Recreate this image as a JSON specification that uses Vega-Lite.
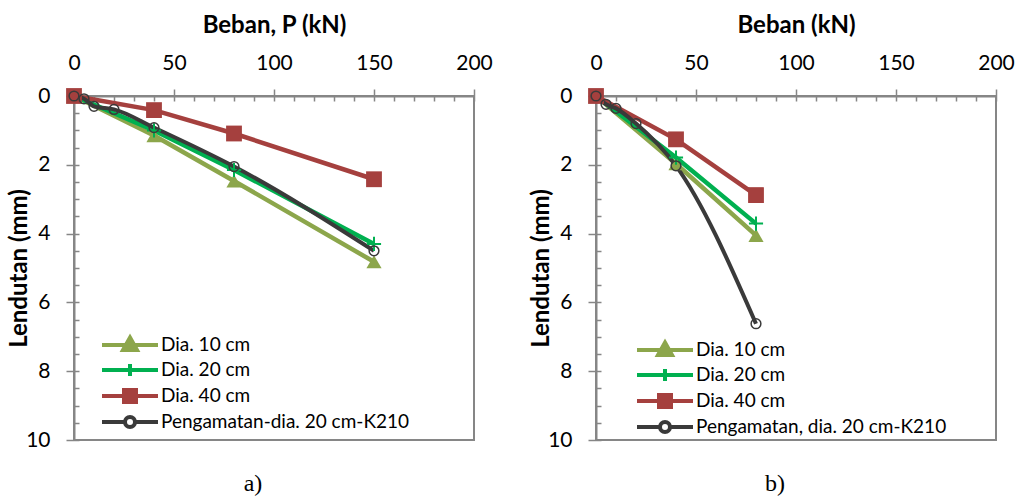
{
  "$schema": "https://vega.github.io/schema/vega-lite/v6.json",
  "autosize": {"type": "pad"},
  "padding": {"left": 6, "top": 12, "right": 5, "bottom": 0},
  "background": "white",
  "config": {"view": {"stroke": "#868686", "strokeWidth": 2}},
  "spacing": 122,
  "bounds": "flush",
  "datasets": {
    "a": [
      {"P": 0, "d": 0, "s": "Dia. 10 cm"}, {"P": 40, "d": 1.15, "s": "Dia. 10 cm"}, {"P": 80, "d": 2.47, "s": "Dia. 10 cm"}, {"P": 150, "d": 4.82, "s": "Dia. 10 cm"},
      {"P": 0, "d": 0, "s": "Dia. 20 cm"}, {"P": 40, "d": 1.0, "s": "Dia. 20 cm"}, {"P": 80, "d": 2.15, "s": "Dia. 20 cm"}, {"P": 150, "d": 4.3, "s": "Dia. 20 cm"},
      {"P": 0, "d": 0, "s": "Dia. 40 cm"}, {"P": 40, "d": 0.41, "s": "Dia. 40 cm"}, {"P": 80, "d": 1.09, "s": "Dia. 40 cm"}, {"P": 150, "d": 2.42, "s": "Dia. 40 cm"},
      {"P": 0, "d": 0, "s": "Pengamatan-dia. 20 cm-K210"}, {"P": 5, "d": 0.08, "s": "Pengamatan-dia. 20 cm-K210"}, {"P": 10, "d": 0.3, "s": "Pengamatan-dia. 20 cm-K210"}, {"P": 20, "d": 0.39, "s": "Pengamatan-dia. 20 cm-K210"}, {"P": 40, "d": 0.92, "s": "Pengamatan-dia. 20 cm-K210"}, {"P": 80, "d": 2.05, "s": "Pengamatan-dia. 20 cm-K210"}, {"P": 150, "d": 4.5, "s": "Pengamatan-dia. 20 cm-K210"}
    ],
    "b": [
      {"P": 0, "d": 0, "s": "Dia. 10 cm"}, {"P": 40, "d": 1.97, "s": "Dia. 10 cm"}, {"P": 80, "d": 4.05, "s": "Dia. 10 cm"},
      {"P": 0, "d": 0, "s": "Dia. 20 cm"}, {"P": 40, "d": 1.79, "s": "Dia. 20 cm"}, {"P": 80, "d": 3.71, "s": "Dia. 20 cm"},
      {"P": 0, "d": 0, "s": "Dia. 40 cm"}, {"P": 40, "d": 1.26, "s": "Dia. 40 cm"}, {"P": 80, "d": 2.88, "s": "Dia. 40 cm"},
      {"P": 0, "d": 0, "s": "Pengamatan, dia. 20 cm-K210"}, {"P": 5, "d": 0.24, "s": "Pengamatan, dia. 20 cm-K210"}, {"P": 10, "d": 0.36, "s": "Pengamatan, dia. 20 cm-K210"}, {"P": 20, "d": 0.8, "s": "Pengamatan, dia. 20 cm-K210"}, {"P": 40, "d": 2.03, "s": "Pengamatan, dia. 20 cm-K210"}, {"P": 80, "d": 6.62, "s": "Pengamatan, dia. 20 cm-K210"}
    ]
  },
  "hconcat": [
    {
      "width": 400, "height": 344,
      "title": {"text": "a)", "orient": "bottom", "font": "Liberation Serif", "fontSize": 24, "fontWeight": "normal", "color": "black", "offset": 22, "dx": -21},
      "data": {"name": "a"},
      "resolve": {"axis": {"x": "independent", "y": "independent"}},
      "layer": [
        {
          "transform": [{"filter": {"field": "s", "oneOf": ["Dia. 10 cm", "Dia. 20 cm", "Dia. 40 cm"]}}],
          "mark": {"type": "line", "strokeWidth": 4.5},
          "encoding": {
            "x": {"field": "P", "type": "quantitative", "scale": {"domain": [0, 200], "nice": false},
              "axis": {"orient": "top", "values": [0, 50, 100, 150, 200], "title": "Beban, P (kN)", "titleFont": "Lato", "titleFontSize": 24, "titleFontWeight": "bold", "titleColor": "black", "titlePadding": 15, "labelFont": "Lato", "labelFontSize": 21, "labelColor": "black", "labelPadding": 16, "tickSize": 7, "tickColor": "#868686", "tickWidth": 1.5, "domainColor": "#868686", "domainWidth": 2, "grid": false, "labelFlush": false}},
            "y": {"field": "d", "type": "quantitative", "scale": {"domain": [0, 10], "reverse": true, "nice": false},
              "axis": {"orient": "left", "values": [0, 2, 4, 6, 8, 10], "title": "Lendutan (mm)", "titleFont": "Lato", "titleFontSize": 24, "titleFontWeight": "bold", "titleColor": "black", "titlePadding": -6, "labelFont": "Lato", "labelFontSize": 21, "labelColor": "black", "labelPadding": 16, "tickSize": 8, "tickColor": "#868686", "tickWidth": 1.5, "domainColor": "#868686", "domainWidth": 2, "grid": false, "labelFlush": false}},
            "color": {"field": "s", "type": "nominal",
              "scale": {"domain": ["Dia. 10 cm", "Dia. 20 cm", "Dia. 40 cm", "Pengamatan-dia. 20 cm-K210"], "range": ["#8CA64B", "#00B050", "#A5403E", "#3A3A3A"]},
              "legend": {"orient": "none", "legendX": 44, "legendY": 237, "title": null, "labelFont": "Lato", "labelFontSize": 19, "labelColor": "black", "labelLimit": 500, "symbolSize": 400, "rowPadding": -2, "labelOffset": 19, "symbolOpacity": 1, "symbolStrokeWidth": 4,
                "encode": {"symbols": {"update": {
                  "shape": {"signal": "datum.value == 'Dia. 10 cm' ? 'M-2.8,0H2.8M0,-0.75L0.7,0.5H-0.7Z' : datum.value == 'Dia. 20 cm' ? 'M-2.8,0H2.8M0,-0.6V0.6' : datum.value == 'Dia. 40 cm' ? 'M-2.8,0H2.8M-0.6,-0.6H0.6V0.6H-0.6Z' : 'M-2.8,0H-0.5M0.5,0H2.8M0.5,0A0.5,0.5,0,1,1,-0.5,0A0.5,0.5,0,1,1,0.5,0Z'"},
                  "fill": {"signal": "datum.value == 'Dia. 10 cm' ? '#8CA64B' : datum.value == 'Dia. 20 cm' ? '#00B050' : datum.value == 'Dia. 40 cm' ? '#A5403E' : 'white'"},
                  "strokeWidth": {"value": 4}
                }}}}}
          }
        },
        {
          "transform": [{"filter": {"not": {"field": "s", "oneOf": ["Dia. 10 cm", "Dia. 20 cm", "Dia. 40 cm"]}}}],
          "mark": {"type": "line", "strokeWidth": 4, "interpolate": "monotone"},
          "encoding": {
            "x": {"field": "P", "type": "quantitative", "axis": {"orient": "top", "values": [0, 10, 20, 30, 40, 50, 60, 70, 80, 90, 100, 110, 120, 130, 140, 150, 160, 170, 180, 190, 200], "labels": false, "domain": false, "title": null, "grid": false, "tickSize": -5, "tickColor": "#868686", "tickWidth": 1.5}},
            "y": {"field": "d", "type": "quantitative", "axis": {"orient": "left", "values": [0, 0.5, 1, 1.5, 2, 2.5, 3, 3.5, 4, 4.5, 5, 5.5, 6, 6.5, 7, 7.5, 8, 8.5, 9, 9.5, 10], "labels": false, "domain": false, "title": null, "grid": false, "tickSize": -5, "tickColor": "#868686", "tickWidth": 1.5}},
            "color": {"field": "s", "type": "nominal"}
          }
        },
        {
          "transform": [{"filter": {"field": "s", "equal": "Dia. 10 cm"}}],
          "mark": {"type": "point", "shape": "triangle-up", "filled": true, "size": 230, "color": "#8CA64B", "opacity": 1},
          "encoding": {"x": {"field": "P", "type": "quantitative", "axis": null}, "y": {"field": "d", "type": "quantitative", "axis": null}}
        },
        {
          "transform": [{"filter": {"field": "s", "equal": "Dia. 20 cm"}}],
          "mark": {"type": "point", "shape": "M-1,0H1M0,-1V1", "filled": false, "size": 200, "stroke": "#00B050", "strokeWidth": 2, "opacity": 1},
          "encoding": {"x": {"field": "P", "type": "quantitative", "axis": null}, "y": {"field": "d", "type": "quantitative", "axis": null}}
        },
        {
          "transform": [{"filter": {"field": "s", "equal": "Dia. 40 cm"}}],
          "mark": {"type": "point", "shape": "square", "filled": true, "size": 250, "color": "#A5403E", "opacity": 1},
          "encoding": {"x": {"field": "P", "type": "quantitative", "axis": null}, "y": {"field": "d", "type": "quantitative", "axis": null}}
        },
        {
          "transform": [{"filter": {"not": {"field": "s", "oneOf": ["Dia. 10 cm", "Dia. 20 cm", "Dia. 40 cm"]}}}],
          "mark": {"type": "point", "shape": "circle", "filled": false, "size": 95, "stroke": "#3A3A3A", "strokeWidth": 1.5, "opacity": 1},
          "encoding": {"x": {"field": "P", "type": "quantitative", "axis": null}, "y": {"field": "d", "type": "quantitative", "axis": null}}
        }
      ]
    },
    {
      "width": 400, "height": 344,
      "title": {"text": "b)", "orient": "bottom", "font": "Liberation Serif", "fontSize": 24, "fontWeight": "normal", "color": "black", "offset": 22, "dx": -21},
      "data": {"name": "b"},
      "resolve": {"axis": {"x": "independent", "y": "independent"}},
      "layer": [
        {
          "transform": [{"filter": {"field": "s", "oneOf": ["Dia. 10 cm", "Dia. 20 cm", "Dia. 40 cm"]}}],
          "mark": {"type": "line", "strokeWidth": 4.5},
          "encoding": {
            "x": {"field": "P", "type": "quantitative", "scale": {"domain": [0, 200], "nice": false},
              "axis": {"orient": "top", "values": [0, 50, 100, 150, 200], "title": "Beban (kN)", "titleFont": "Lato", "titleFontSize": 24, "titleFontWeight": "bold", "titleColor": "black", "titlePadding": 15, "labelFont": "Lato", "labelFontSize": 21, "labelColor": "black", "labelPadding": 16, "tickSize": 7, "tickColor": "#868686", "tickWidth": 1.5, "domainColor": "#868686", "domainWidth": 2, "grid": false, "labelFlush": false}},
            "y": {"field": "d", "type": "quantitative", "scale": {"domain": [0, 10], "reverse": true, "nice": false},
              "axis": {"orient": "left", "values": [0, 2, 4, 6, 8, 10], "title": "Lendutan (mm)", "titleFont": "Lato", "titleFontSize": 24, "titleFontWeight": "bold", "titleColor": "black", "titlePadding": -6, "labelFont": "Lato", "labelFontSize": 21, "labelColor": "black", "labelPadding": 16, "tickSize": 8, "tickColor": "#868686", "tickWidth": 1.5, "domainColor": "#868686", "domainWidth": 2, "grid": false, "labelFlush": false}},
            "color": {"field": "s", "type": "nominal",
              "scale": {"domain": ["Dia. 10 cm", "Dia. 20 cm", "Dia. 40 cm", "Pengamatan, dia. 20 cm-K210"], "range": ["#8CA64B", "#00B050", "#A5403E", "#3A3A3A"]},
              "legend": {"orient": "none", "legendX": 57, "legendY": 242, "title": null, "labelFont": "Lato", "labelFontSize": 19, "labelColor": "black", "labelLimit": 500, "symbolSize": 400, "rowPadding": -4, "labelOffset": 19, "symbolOpacity": 1, "symbolStrokeWidth": 4,
                "encode": {"symbols": {"update": {
                  "shape": {"signal": "datum.value == 'Dia. 10 cm' ? 'M-2.8,0H2.8M0,-0.75L0.7,0.5H-0.7Z' : datum.value == 'Dia. 20 cm' ? 'M-2.8,0H2.8M0,-0.6V0.6' : datum.value == 'Dia. 40 cm' ? 'M-2.8,0H2.8M-0.6,-0.6H0.6V0.6H-0.6Z' : 'M-2.8,0H-0.5M0.5,0H2.8M0.5,0A0.5,0.5,0,1,1,-0.5,0A0.5,0.5,0,1,1,0.5,0Z'"},
                  "fill": {"signal": "datum.value == 'Dia. 10 cm' ? '#8CA64B' : datum.value == 'Dia. 20 cm' ? '#00B050' : datum.value == 'Dia. 40 cm' ? '#A5403E' : 'white'"},
                  "strokeWidth": {"value": 4}
                }}}}}
          }
        },
        {
          "transform": [{"filter": {"not": {"field": "s", "oneOf": ["Dia. 10 cm", "Dia. 20 cm", "Dia. 40 cm"]}}}],
          "mark": {"type": "line", "strokeWidth": 4, "interpolate": "monotone"},
          "encoding": {
            "x": {"field": "P", "type": "quantitative", "axis": {"orient": "top", "values": [0, 10, 20, 30, 40, 50, 60, 70, 80, 90, 100, 110, 120, 130, 140, 150, 160, 170, 180, 190, 200], "labels": false, "domain": false, "title": null, "grid": false, "tickSize": -5, "tickColor": "#868686", "tickWidth": 1.5}},
            "y": {"field": "d", "type": "quantitative", "axis": {"orient": "left", "values": [0, 0.5, 1, 1.5, 2, 2.5, 3, 3.5, 4, 4.5, 5, 5.5, 6, 6.5, 7, 7.5, 8, 8.5, 9, 9.5, 10], "labels": false, "domain": false, "title": null, "grid": false, "tickSize": -5, "tickColor": "#868686", "tickWidth": 1.5}},
            "color": {"field": "s", "type": "nominal"}
          }
        },
        {
          "transform": [{"filter": {"field": "s", "equal": "Dia. 10 cm"}}],
          "mark": {"type": "point", "shape": "triangle-up", "filled": true, "size": 230, "color": "#8CA64B", "opacity": 1},
          "encoding": {"x": {"field": "P", "type": "quantitative", "axis": null}, "y": {"field": "d", "type": "quantitative", "axis": null}}
        },
        {
          "transform": [{"filter": {"field": "s", "equal": "Dia. 20 cm"}}],
          "mark": {"type": "point", "shape": "M-1,0H1M0,-1V1", "filled": false, "size": 200, "stroke": "#00B050", "strokeWidth": 2, "opacity": 1},
          "encoding": {"x": {"field": "P", "type": "quantitative", "axis": null}, "y": {"field": "d", "type": "quantitative", "axis": null}}
        },
        {
          "transform": [{"filter": {"field": "s", "equal": "Dia. 40 cm"}}],
          "mark": {"type": "point", "shape": "square", "filled": true, "size": 250, "color": "#A5403E", "opacity": 1},
          "encoding": {"x": {"field": "P", "type": "quantitative", "axis": null}, "y": {"field": "d", "type": "quantitative", "axis": null}}
        },
        {
          "transform": [{"filter": {"not": {"field": "s", "oneOf": ["Dia. 10 cm", "Dia. 20 cm", "Dia. 40 cm"]}}}],
          "mark": {"type": "point", "shape": "circle", "filled": false, "size": 95, "stroke": "#3A3A3A", "strokeWidth": 1.5, "opacity": 1},
          "encoding": {"x": {"field": "P", "type": "quantitative", "axis": null}, "y": {"field": "d", "type": "quantitative", "axis": null}}
        }
      ]
    }
  ],
  "resolve": {"scale": {"x": "independent", "y": "independent", "color": "independent"}, "legend": {"color": "independent"}}
}
